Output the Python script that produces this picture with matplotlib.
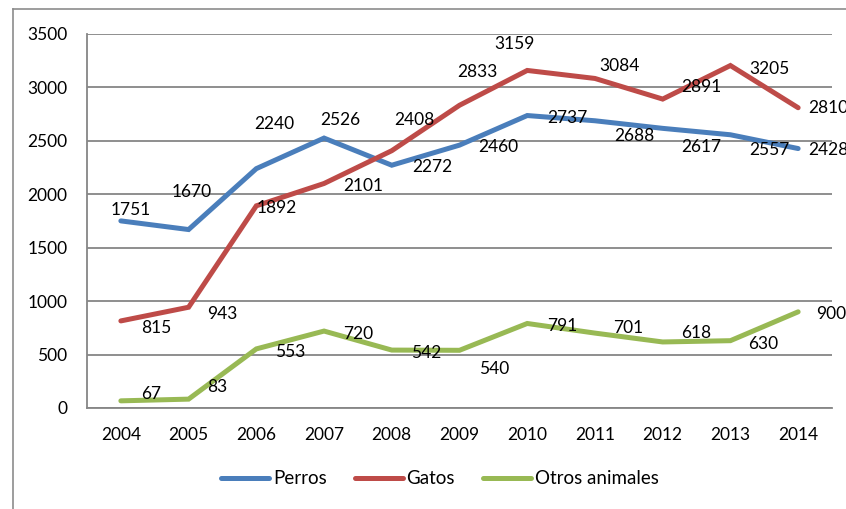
import matplotlib
matplotlib.use('Agg')
import matplotlib.pyplot as plt
from matplotlib.lines import Line2D

plt.rcParams['font.family'] = ['Lato', 'DejaVu Sans']
plt.rcParams['font.size'] = 12.5

years = ['2004', '2005', '2006', '2007', '2008', '2009', '2010', '2011', '2012', '2013', '2014']
perros = [1751, 1670, 2240, 2526, 2272, 2460, 2737, 2688, 2617, 2557, 2428]
gatos = [815, 943, 1892, 2101, 2408, 2833, 3159, 3084, 2891, 3205, 2810]
otros = [67, 83, 553, 720, 542, 540, 791, 701, 618, 630, 900]

# label offsets in pixels (dx, dy with y going down like the picture)
off_perros = [(10, -11), (3, -38), (18, -45), (16, -18), (41, 2), (39, 2),
              (40, 2), (39, 15), (39, 19), (39, 15), (30, 1)]
off_gatos = [(35, 7), (34, 7), (20, 2), (39, 3), (23, -31), (18, -33),
             (-13, -26), (25, -12), (39, -12), (39, 3), (30, 0)]
off_otros = [(30, -7), (29, -12), (34, 3), (34, 3), (34, 3), (35, 19),
             (35, 3), (33, -5), (34, -9), (33, 3), (33, 2)]

W, H = 846, 509
fig = plt.figure(figsize=(W / 100, H / 100), dpi=100)
ax = fig.add_axes([87 / W, (H - 408) / H, (832 - 87) / W, (408 - 34) / H])

# outer chart frame
frame_col = '#8c8c8c'
fig.add_artist(Line2D([13 / W, 1.01], [1 - 9 / H, 1 - 9 / H], color=frame_col, lw=1.2, transform=fig.transFigure))
fig.add_artist(Line2D([13 / W, 13 / W], [-0.01, 1 - 9 / H], color=frame_col, lw=1.2, transform=fig.transFigure))

x = list(range(len(years)))
series = [
    ('Perros', perros, '#4a7ebb', off_perros),
    ('Gatos', gatos, '#be4b48', off_gatos),
    ('Otros animales', otros, '#98b954', off_otros),
]
for name, vals, col, offs in series:
    ax.plot(x, vals, color=col, lw=3.6, solid_capstyle='round', solid_joinstyle='miter', label=name, zorder=3)
    for xi, v, (dx, dy) in zip(x, vals, offs):
        ax.annotate(str(v), (xi, v), xytext=(dx, -dy), textcoords='offset pixels',
                    ha='center', va='center', fontsize=12.5, color='black', zorder=4,
                    annotation_clip=False)

ax.set_xlim(-0.5, 10.5)
ax.set_ylim(0, 3500)
ax.set_yticks(range(0, 3501, 500))
ax.set_xticks(x)
ax.set_xticklabels(years)
ax.grid(axis='y', color='#868686', lw=1.3)
ax.set_axisbelow(True)
for s in ['top', 'right']:
    ax.spines[s].set_visible(False)
for s in ['left', 'bottom']:
    ax.spines[s].set_color('#868686')
    ax.spines[s].set_linewidth(1.3)
ax.tick_params(axis='both', length=0)
ax.tick_params(axis='y', pad=14)
ax.tick_params(axis='x', pad=14)

fig.legend(loc='center', bbox_to_anchor=(440 / W, 1 - 479 / H), ncol=3, frameon=False,
           handlelength=2.55, handletextpad=0.2, columnspacing=1.5, fontsize=13.5)

fig.savefig('out.png', dpi=100)
